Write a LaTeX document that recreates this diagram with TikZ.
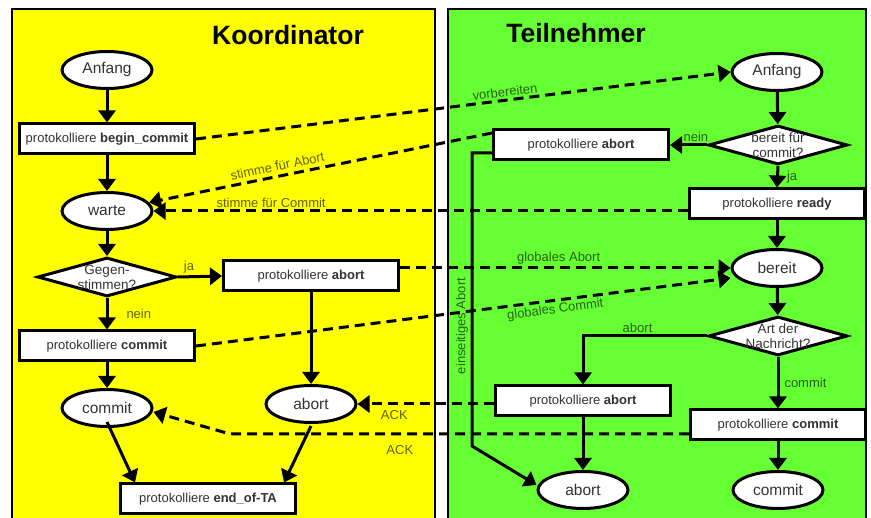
\documentclass[tikz,border=0pt]{standalone}
\usepackage{fontspec}
\setmainfont{Liberation Sans}
\usetikzlibrary{arrows.meta,shapes.geometric}
\definecolor{koordgelb}{RGB}{255,255,0}
\definecolor{teilgruen}{RGB}{102,255,51}
\begin{document}
\begin{tikzpicture}[x=1pt, y=-1pt,
		flow/.style={line width=3pt, -{Triangle[length=12pt,width=17pt]}},
		msg/.style={flow, dash pattern=on 10pt off 6pt},
		state/.style={ellipse, draw, line width=3pt, fill=white, minimum width=90pt, minimum height=37pt, inner sep=0pt, text=black!80, font=\fontsize{15.5}{18}\selectfont},
		logbox/.style={rectangle, draw, line width=3pt, fill=white, minimum width=175pt, minimum height=30pt, inner sep=0pt, text=black!80, font=\fontsize{13}{15}\selectfont},
		decision/.style={diamond, draw, line width=3pt, fill=white, minimum width=139pt, minimum height=39pt, inner sep=0pt},
		dtext/.style={align=center, inner sep=0pt, text=black!80, font=\fontsize{13.5}{15}\selectfont},
		tag/.style={text=black, text opacity=0.62, inner sep=2pt, font=\fontsize{13}{15}\selectfont},
		lanetitle/.style={font=\fontsize{26.5}{30}\selectfont\bfseries}]
	\useasboundingbox (0,0) rectangle (871,518);
	\filldraw[fill=koordgelb, draw=black, line width=1.3pt] (12,9) rectangle (435,530);
	\filldraw[fill=teilgruen, draw=black, line width=1.3pt] (448,9) rectangle (866,530);
	\node[lanetitle] (kTitle) at (288,35) {Koordinator};
	\node[lanetitle] (tTitle) at (576,33) {Teilnehmer};

	\node[state] (kAnf) at (107,70) {Anfang};
	\node[logbox] (kBegin) at (107,139) {protokolliere \textbf{begin\_commit}};
	\node[state] (kWarte) at (107,211) {warte};
	\node[decision] (kGegen) at (107,277) {};
	\node[dtext] (kGegenT) at (kGegen) {Gegen-\\stimmen?};
	\node[logbox] (kAbort) at (311,276) {protokolliere \textbf{abort}};
	\node[logbox] (kCommit) at (107,346) {protokolliere \textbf{commit}};
	\node[state] (kCommitE) at (107,408) {commit};
	\node[state] (kAbortE) at (311,404) {abort};
	\node[logbox] (kEnd) at (208,499) {protokolliere \textbf{end\_of-TA}};

	\node[state] (tAnf) at (777,72) {Anfang};
	\node[decision] (tBereitQ) at (778,145) {};
	\node[dtext] (tBereitQT) at (tBereitQ) {bereit für\\commit?};
	\node[logbox] (tAbortA) at (581,145) {protokolliere \textbf{abort}};
	\node[logbox] (tReady) at (777,204) {protokolliere \textbf{ready}};
	\node[state] (tBereit) at (777,268) {bereit};
	\node[decision] (tArt) at (778,336) {};
	\node[dtext] (tArtT) at (tArt) {Art der\\Nachricht?};
	\node[logbox] (tAbortB) at (583,401) {protokolliere \textbf{abort}};
	\node[logbox] (tCommit) at (778,425) {protokolliere \textbf{commit}};
	\node[state] (tAbortE) at (583,490) {abort};
	\node[state] (tCommitE) at (778,490) {commit};

	\coordinate (eBendA) at (472,153);
	\coordinate (eBendB) at (472,446);
	\coordinate (ackBend) at (230,434);

	\draw[flow] (kAnf) -- (kBegin);
	\draw[flow] (kBegin) -- (kWarte);
	\draw[flow] (kWarte) -- (kGegen);
	\draw[flow] (kGegen.east) -- node[tag, above, pos=0.25] (lJaK) {ja} (kAbort.west);
	\draw[flow] (kGegen.south) -- node[tag, right=16pt] (lNeinK) {nein} (kCommit.north);
	\draw[flow] (kCommit) -- (kCommitE);
	\draw[flow] (kAbort) -- (kAbortE);
	\draw[flow] ([yshift=-14pt]kCommitE.center) -- ([xshift=16pt]kEnd.north west);
	\draw[flow] ([yshift=-22pt]kAbortE.center) -- ([xshift=-13pt]kEnd.north east);

	\draw[flow] (tAnf) -- (tBereitQ);
	\draw[flow] (tBereitQ.west) -- node[tag, above, pos=0.3] (lNeinT) {nein} (tAbortA.east);
	\draw[flow] (tBereitQ.south) -- node[tag, right=6pt] (lJaT) {ja} (tReady.north);
	\draw[flow] (tReady) -- (tBereit);
	\draw[flow] (tBereit) -- (tArt);
	\draw[flow] (tArt.west) -| node[tag, above, pos=0.28] (lAbortT) {abort} (tAbortB.north);
	\draw[flow] (tArt.south) -- node[tag, right=3pt] (lCommitT) {commit} (tCommit.north);
	\draw[flow] (tAbortB) -- (tAbortE);
	\draw[flow] (tCommit) -- (tCommitE);
	\draw[flow] ([yshift=-8pt]tAbortA.west) -- (eBendA) -- (eBendB) -- ([yshift=5pt]tAbortE.west);
	\node[tag, rotate=90] (lEinseitig) at (462,326) {einseitiges Abort};

	\draw[msg] (kBegin.east) -- node[tag, above, sloped, pos=0.58] (lVorb) {vorbereiten} (tAnf.west);
	\draw[msg] ([yshift=12pt]tAbortA.west) -- node[tag, above=2pt, sloped, pos=0.62] (lStAbort) {stimme für Abort} (kWarte);
	\draw[msg] (kWarte.east -| tReady.west) -- node[tag, above, pos=0.78] (lStCommit) {stimme für Commit} (kWarte.east);
	\draw[msg] (kAbort.east |- tBereit) -- node[tag, above, pos=0.48] (lGlAbort) {globales Abort} (tBereit.west);
	\draw[msg] (kCommit.east) -- node[tag, below, sloped, pos=0.67] (lGlCommit) {globales Commit} ([yshift=-10pt]tBereit.west);
	\draw[msg] (kAbortE.east -| tAbortB.west) -- node[tag, below=3pt, pos=0.73] (lAckA) {ACK} (kAbortE.east);
	\draw[msg] ([yshift=-9pt]tCommit.west) -- node[tag, below=8pt, pos=0.63] (lAckB) {ACK} (ackBend) -- ([yshift=-4pt]kCommitE.east);
\end{tikzpicture}
\end{document}
